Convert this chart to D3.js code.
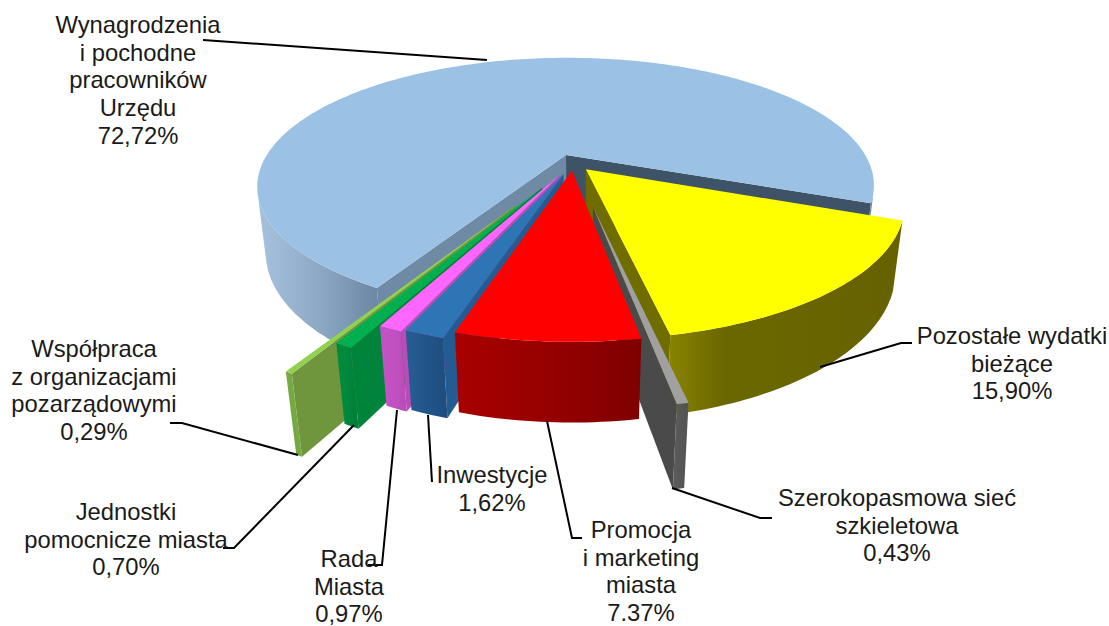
<!DOCTYPE html>
<html>
<head>
<meta charset="utf-8">
<script src="https://d3js.org/d3.v7.min.js"></script>
<style>
  html, body { margin: 0; padding: 0; background: #fff; }
  text { font-family: "Liberation Sans", Arial, sans-serif; font-size: 23.8px; fill: #1a1a1a; }
</style>
</head>
<body>
<div id="chart"></div>
<script>
// ===========Data
var names = ["Wynagrodzenia i pochodne pracowników Urzędu", "Pozostałe wydatki bieżące",
    "Szerokopasmowa sieć szkieletowa", "Promocja i marketing miasta", "Inwestycje",
    "Rada Miasta", "Jednostki pomocnicze miasta", "Współpraca z organizacjami pozarządowymi"];
var shares = [72.72, 15.90, 0.43, 7.37, 1.62, 0.97, 0.70, 0.29];
var shareLabels = ["72,72%", "15,90%", "0,43%", "7.37%", "1,62%", "0,97%", "0,70%", "0,29%"];

// ===========Slice look
var explode = [0.07, 0.065, 0.33, 0.06, 0.09, 0.10, 0.21, 0.36];
var topColors = ["#9bc2e4", "#ffff00", "#a0a0a0", "#ff0000", "#2e75b6", "#ff66ff", "#00b050", "#92d050"];
var rimLeft = ["#a3bfdb", "#8a8400", "#5c5c5c", "#a80000", "#255c92", "#c552c5", "#008a3e", "#76a944"];
var rimMid = ["#8ca8c4", "#6b6700", "#585858", "#960000", "#215488", "#bf4fbf", "#00833a", "#76a944"];
var rimRight = ["#6c88a4", "#666200", "#555555", "#800000", "#1e4d7c", "#b94cb9", "#007c36", "#76a944"];
var sideStart = ["#6f8aa5", "#6f6c00", "#4a4a4a", "#800000", "#235c92", "#b94cb9", "#00843c", "#6f963c"];
var sideEnd = ["#3f5366", "#6f6c00", "#4a4a4a", "#a80000", "#235c92", "#c552c5", "#008a3e", "#76a944"];
// back to front
var drawOrder = [0, 7, 6, 5, 4, 1, 2, 3];

// ===========Label layout
var labelLines = [
    ["Wynagrodzenia", "i pochodne", "pracowników", "Urzędu"],
    ["Pozostałe wydatki", "bieżące"],
    ["Szerokopasmowa sieć", "szkieletowa"],
    ["Promocja", "i marketing", "miasta"],
    ["Inwestycje"],
    ["Rada", "Miasta"],
    ["Jednostki", "pomocnicze miasta"],
    ["Współpraca", "z organizacjami", "pozarządowymi"]
];
// the last row of Promocja has to stay inside the window
var labelAnchors = [[138, 33], [1012, 344], [897, 506], [641, 537.8], [492, 483], [349, 567], [126, 520], [94, 357]];
var leaders = [
    [[203, 40], [487, 60]],
    [[912, 343], [901, 343], [820, 367]],
    [[772, 518], [760, 518], [672, 488]],
    [[547, 421], [572, 538], [582, 538]],
    [[428, 415], [432, 482]],
    [[397, 410], [382, 565], [368, 565]],
    [[354, 425], [234, 548], [223, 548]],
    [[170, 423], [182, 423], [298, 455]]
];

// ===========Set size and camera
var svgWidth = 1109;
var svgHeight = 626;
var center = {x: 573, y: 163};
var scale = 304;      // pixels per pie radius at the pie centre
var tilt = Math.asin(0.41);
var viewDist = 3.7;
var wallHeight = 0.24;
var startDeg = 209.6;

var svg = d3.select("#chart").append("svg")
    .attr("width", svgWidth)
    .attr("height", svgHeight)
    .style("display", "block");
var defs = svg.append("defs");
var pieGroup = svg.append("g");

// world: x right, y away from viewer, z up, radius 1 pie with its top at z = 0
function project(x, y, z) {
    var depth = 1 + (y * Math.cos(tilt) - z * Math.sin(tilt)) / viewDist;
    return [
        center.x + scale * x / depth,
        center.y - scale * (y * Math.sin(tilt) + z * Math.cos(tilt)) / depth
    ];
}

var linePath = d3.line();

var pieLayout = d3.pie().sort(null).value(d => d)
    .startAngle(startDeg * Math.PI / 180)
    .endAngle((startDeg + 360) * Math.PI / 180);
var arcs = pieLayout(shares);

function drawSlice(i) {
    var arc = arcs[i];
    var mid = (arc.startAngle + arc.endAngle) / 2;
    var ox = explode[i] * Math.sin(mid);
    var oy = explode[i] * Math.cos(mid);

    var steps = Math.max(2, Math.ceil((arc.endAngle - arc.startAngle) / 0.02));
    var angles = d3.range(steps + 1).map(k => arc.startAngle + (arc.endAngle - arc.startAngle) * k / steps);
    var rim = z => angles.map(a => project(ox + Math.sin(a), oy + Math.cos(a), z));
    var apex = z => project(ox, oy, z);

    var rimTop = rim(0);
    var rimBottom = rim(-wallHeight);

    var gradId = "rim" + i;
    var grad = defs.append("linearGradient")
        .attr("id", gradId)
        .attr("gradientUnits", "userSpaceOnUse")
        .attr("x1", d3.min(rimBottom, d => d[0]))
        .attr("x2", i == 0 ? 375 : d3.max(rimBottom, d => d[0]))
        .attr("y1", 0)
        .attr("y2", 0);
    grad.append("stop").attr("offset", 0).attr("stop-color", rimLeft[i]);
    grad.append("stop").attr("offset", i == 1 ? 0.25 : 0.5).attr("stop-color", rimMid[i]);
    grad.append("stop").attr("offset", 1).attr("stop-color", rimRight[i]);

    var g = pieGroup.append("g");

    // radial side faces, only when they look at the viewer
    var startFace = [apex(0), rimTop[0], rimBottom[0], apex(-wallHeight)];
    var endFace = [rimTop[steps], apex(0), apex(-wallHeight), rimBottom[steps]];
    if (d3.polygonArea(startFace) > 0) {
        g.append("path").attr("d", linePath(startFace) + "Z").attr("fill", sideStart[i]);
    }
    if (d3.polygonArea(endFace) > 0) {
        g.append("path").attr("d", linePath(endFace) + "Z").attr("fill", sideEnd[i]);
    }

    // outer wall, split in runs so the part facing away is not painted
    var run = [];
    function flushRun() {
        if (run.length > 1) {
            var topEdge = run.map(k => rimTop[k]);
            var bottomEdge = run.map(k => rimBottom[k]).reverse();
            g.append("path")
                .attr("d", linePath(topEdge.concat(bottomEdge)) + "Z")
                .attr("fill", "url(#" + gradId + ")");
        }
        run = [];
    }
    d3.range(steps).forEach(function(k) {
        var quad = [rimTop[k], rimTop[k + 1], rimBottom[k + 1], rimBottom[k]];
        if (d3.polygonArea(quad) > 0) {
            if (!run.length) run.push(k);
            run.push(k + 1);
        } else {
            flushRun();
        }
    });
    flushRun();

    g.append("path")
        .attr("d", linePath([apex(0)].concat(rimTop)) + "Z")
        .attr("fill", topColors[i]);
}

drawOrder.forEach(drawSlice);

// ===========Leader lines
svg.append("g").selectAll("path")
    .data(leaders)
    .enter()
    .append("path")
    .attr("d", d => linePath(d))
    .attr("fill", "none")
    .attr("stroke", "#000")
    .attr("stroke-width", 2);

// ===========Labels
var labelGroup = svg.append("g").selectAll("text")
    .data(names)
    .enter()
    .append("text")
    .attr("text-anchor", "middle");

labelGroup.each(function(d, i) {
    var rows = labelLines[i].concat(shareLabels[i]);
    d3.select(this).selectAll("tspan")
        .data(rows)
        .enter()
        .append("tspan")
        .attr("x", labelAnchors[i][0])
        .attr("y", (r, k) => labelAnchors[i][1] + k * 27.7)
        .text(r => r);
});
</script>
</body>
</html>
